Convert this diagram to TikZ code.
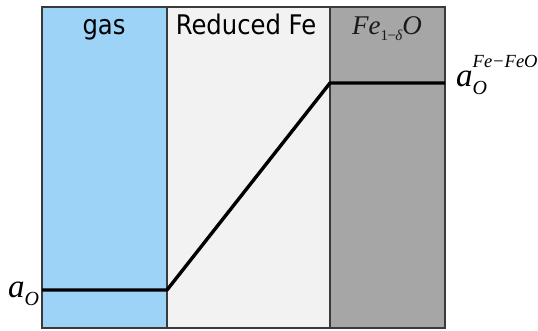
\documentclass[tikz,border=0pt]{standalone}
\usepackage{fontspec}
\setmainfont{DejaVu Sans Condensed}
\newfontfamily\serifit{Liberation Serif}[ItalicFont=* Italic]
\definecolor{gasblue}{HTML}{9DD3F7}
\definecolor{redfe}{HTML}{F2F2F2}
\definecolor{feo}{HTML}{A6A6A6}
\definecolor{edge}{HTML}{3A3A3A}
\begin{document}
\begin{tikzpicture}[x=1pt,y=-1pt,
  region/.style={draw=edge,line width=1.3pt},
  lbl/.style={anchor=base,inner sep=0pt,font=\fontsize{27}{29}\selectfont},
  mlbl/.style={anchor=base west,inner sep=0pt},
  profile/.style={line width=3.4pt,black,line join=round}]
\useasboundingbox (0,0) rectangle (538,330);
\fill[gasblue] (42,7) rectangle (167,328);
\fill[redfe] (167,7) rectangle (330,328);
\fill[feo] (330,7) rectangle (445,328);
\draw[region] (42,7) rectangle (445,328);
\draw[region] (167,7) -- (167,328);
\draw[region] (330,7) -- (330,328);
\coordinate (p0) at (42,290);
\coordinate (p1) at (167,290);
\coordinate (p2) at (330,83);
\coordinate (p3) at (445,83);
\draw[profile] (p0) -- (p1) -- (p2) -- (p3);
\node[lbl] (gas) at (104,34) {gas};
\node[lbl] (red) at (246,34) {Reduced Fe};
\node[lbl,text=black!90] (fe) at (387,34) {\serifit\itshape\fontsize{27}{28}\selectfont Fe\raisebox{-0.25em}{\fontsize{15}{16}\selectfont\upshape 1\kern-0.5pt−\kern-0.5pt\itshape δ}O};
\node[mlbl] (ao) at (8,297) {\serifit\itshape\fontsize{33}{34}\selectfont a\raisebox{-0.25em}{\fontsize{20}{20}\selectfont O}};
\node[mlbl] (aofe) at (456,86) {\serifit\itshape\fontsize{33}{34}\selectfont a\rlap{\raisebox{-0.25em}{\fontsize{20}{20}\selectfont O}}\raisebox{0.55em}{\fontsize{18.5}{19}\selectfont Fe−FeO}};
\end{tikzpicture}
\end{document}
